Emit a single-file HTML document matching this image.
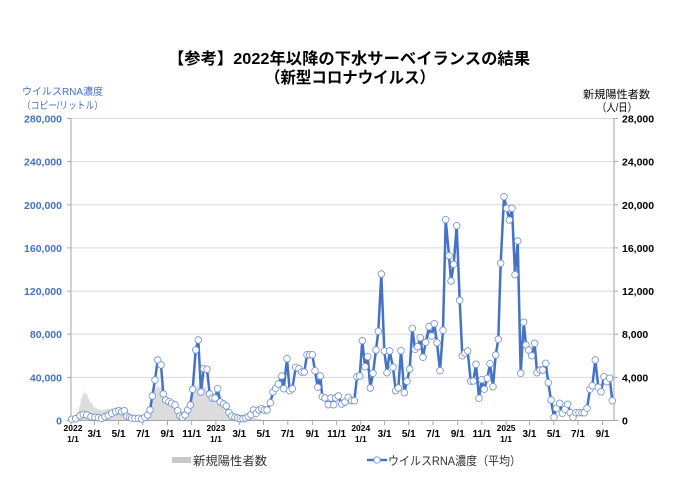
<!DOCTYPE html>
<html><head><meta charset="utf-8">
<style>
html,body{margin:0;padding:0;background:#fff;}
svg{display:block;}
</style></head>
<body>
<svg width="700" height="495" viewBox="0 0 700 495" xmlns="http://www.w3.org/2000/svg" font-family="'Liberation Sans','Noto Sans CJK JP',sans-serif">
<defs>
<marker id="m" markerWidth="9" markerHeight="9" refX="4.5" refY="4.5" markerUnits="userSpaceOnUse">
<circle cx="4.5" cy="4.5" r="3.3" fill="#ffffff" stroke="#6f8fd0" stroke-width="0.8"/>
</marker>
</defs>
<rect width="700" height="495" fill="#fff"/>

<!-- Title -->
<text x="349" y="64" text-anchor="middle" font-size="16" font-weight="bold" fill="#000" textLength="362" lengthAdjust="spacingAndGlyphs">【参考】2022年以降の下水サーベイランスの結果</text>
<text x="350" y="83" text-anchor="middle" font-size="16" font-weight="bold" fill="#000" textLength="170" lengthAdjust="spacingAndGlyphs">（新型コロナウイルス）</text>

<!-- axis titles -->
<text x="22" y="95" font-size="10" fill="#4472c4" textLength="81" lengthAdjust="spacingAndGlyphs">ウイルスRNA濃度</text>
<text x="22" y="109" font-size="10" fill="#4472c4" textLength="81" lengthAdjust="spacingAndGlyphs">（コピー/リットル）</text>
<text x="583" y="98" font-size="11" fill="#000" textLength="67" lengthAdjust="spacingAndGlyphs">新規陽性者数</text>
<text x="597" y="111" font-size="11" fill="#000" textLength="40" lengthAdjust="spacingAndGlyphs">（人/日）</text>

<!-- gridlines -->
<g stroke="#d9d9d9" stroke-width="1">
<line x1="71" y1="118.5" x2="614" y2="118.5"/>
<line x1="71" y1="161.6" x2="614" y2="161.6"/>
<line x1="71" y1="204.8" x2="614" y2="204.8"/>
<line x1="71" y1="247.9" x2="614" y2="247.9"/>
<line x1="71" y1="291.1" x2="614" y2="291.1"/>
<line x1="71" y1="334.2" x2="614" y2="334.2"/>
<line x1="71" y1="377.4" x2="614" y2="377.4"/>
</g>

<!-- bars (new positive cases) -->
<polygon fill="#dcdcdc" points="71,420 74,419 76,416 77,412 78,414 79,405 80,408 81,397 82,400 83,392 84,396 85,390 86,395 87,393 88,399 89,398 90,403 91,402 93,405 94,408 96,407 98,410 100,409 102,411 104,409 106,410 108,408 110,410 112,407 114,409 116,406 118,409 120,407 122,410 124,409 126,412 128,412 130,415 132,415 136,416 140,416 144,415 146,414 148,410 149,405 150,408 151,398 152,401 153,390 154,394 155,387 156,390 157,383 158,388 159,385 160,389 161,386 162,391 163,390 164,394 166,395 168,399 170,399 172,402 174,403 176,406 178,408 180,411 182,411 184,412 186,410 187,406 188,404 189,400 190,402 191,393 192,397 193,388 194,392 195,386 196,391 197,383 198,388 199,384 200,387 201,380 202,386 203,383 204,388 205,384 206,390 207,388 208,393 209,391 210,395 211,392 212,398 213,396 214,400 216,400 218,404 220,404 222,407 225,408 228,411 230,411 233,413 235,413 240,415 245,416 250,417 255,418 260,419 263,420"/>

<!-- axes -->
<g stroke="#a6a6a6" stroke-width="1" fill="none">
<line x1="71" y1="118" x2="71" y2="420.5"/>
<line x1="614" y1="118" x2="614" y2="420.5"/>
<line x1="71" y1="420.5" x2="614" y2="420.5"/>
<line x1="67" y1="118.5" x2="71" y2="118.5"/>
<line x1="67" y1="161.6" x2="71" y2="161.6"/>
<line x1="67" y1="204.8" x2="71" y2="204.8"/>
<line x1="67" y1="247.9" x2="71" y2="247.9"/>
<line x1="67" y1="291.1" x2="71" y2="291.1"/>
<line x1="67" y1="334.2" x2="71" y2="334.2"/>
<line x1="67" y1="377.4" x2="71" y2="377.4"/>
<line x1="67" y1="420.5" x2="71" y2="420.5"/>
<line x1="614" y1="118.5" x2="618" y2="118.5"/>
<line x1="614" y1="161.6" x2="618" y2="161.6"/>
<line x1="614" y1="204.8" x2="618" y2="204.8"/>
<line x1="614" y1="247.9" x2="618" y2="247.9"/>
<line x1="614" y1="291.1" x2="618" y2="291.1"/>
<line x1="614" y1="334.2" x2="618" y2="334.2"/>
<line x1="614" y1="377.4" x2="618" y2="377.4"/>
<line x1="614" y1="420.5" x2="618" y2="420.5"/>
<!-- x ticks -->
<line x1="71" y1="420.5" x2="71" y2="425"/>
<line x1="94.4" y1="420.5" x2="94.4" y2="425"/>
<line x1="118.6" y1="420.5" x2="118.6" y2="425"/>
<line x1="142.9" y1="420.5" x2="142.9" y2="425"/>
<line x1="167.5" y1="420.5" x2="167.5" y2="425"/>
<line x1="191.7" y1="420.5" x2="191.7" y2="425"/>
<line x1="215.9" y1="420.5" x2="215.9" y2="425"/>
<line x1="239.3" y1="420.5" x2="239.3" y2="425"/>
<line x1="263.5" y1="420.5" x2="263.5" y2="425"/>
<line x1="287.8" y1="420.5" x2="287.8" y2="425"/>
<line x1="312.4" y1="420.5" x2="312.4" y2="425"/>
<line x1="336.6" y1="420.5" x2="336.6" y2="425"/>
<line x1="360.8" y1="420.5" x2="360.8" y2="425"/>
<line x1="384.6" y1="420.5" x2="384.6" y2="425"/>
<line x1="408.8" y1="420.5" x2="408.8" y2="425"/>
<line x1="433.1" y1="420.5" x2="433.1" y2="425"/>
<line x1="457.7" y1="420.5" x2="457.7" y2="425"/>
<line x1="481.9" y1="420.5" x2="481.9" y2="425"/>
<line x1="506.1" y1="420.5" x2="506.1" y2="425"/>
<line x1="529.5" y1="420.5" x2="529.5" y2="425"/>
<line x1="553.8" y1="420.5" x2="553.8" y2="425"/>
<line x1="578" y1="420.5" x2="578" y2="425"/>
<line x1="602.6" y1="420.5" x2="602.6" y2="425"/>
</g>

<!-- left tick labels -->
<g font-size="10.5" font-weight="bold" fill="#4472c4" text-anchor="end">
<text x="62" y="122.5">280,000</text>
<text x="62" y="165.6">240,000</text>
<text x="62" y="208.8">200,000</text>
<text x="62" y="251.9">160,000</text>
<text x="62" y="295.1">120,000</text>
<text x="62" y="338.2">80,000</text>
<text x="62" y="381.4">40,000</text>
<text x="62" y="424.5">0</text>
</g>
<!-- right tick labels -->
<g font-size="10.5" font-weight="bold" fill="#000" text-anchor="start">
<text x="622" y="122.5">28,000</text>
<text x="622" y="165.6">24,000</text>
<text x="622" y="208.8">20,000</text>
<text x="622" y="251.9">16,000</text>
<text x="622" y="295.1">12,000</text>
<text x="622" y="338.2">8,000</text>
<text x="622" y="381.4">4,000</text>
<text x="622" y="424.5">0</text>
</g>

<!-- x labels -->
<g font-size="10" font-weight="bold" fill="#000" text-anchor="middle">
<text x="73" y="431" font-size="8.5">2022</text>
<text x="73" y="442" font-size="8.5">1/1</text>
<text x="94.4" y="437">3/1</text>
<text x="118.6" y="437">5/1</text>
<text x="142.9" y="437">7/1</text>
<text x="167.5" y="437">9/1</text>
<text x="191.7" y="437">11/1</text>
<text x="215.9" y="431" font-size="8.5">2023</text>
<text x="215.9" y="442" font-size="8.5">1/1</text>
<text x="239.3" y="437">3/1</text>
<text x="263.5" y="437">5/1</text>
<text x="287.8" y="437">7/1</text>
<text x="312.4" y="437">9/1</text>
<text x="336.6" y="437">11/1</text>
<text x="360.8" y="431" font-size="8.5">2024</text>
<text x="360.8" y="442" font-size="8.5">1/1</text>
<text x="384.6" y="437">3/1</text>
<text x="408.8" y="437">5/1</text>
<text x="433.1" y="437">7/1</text>
<text x="457.7" y="437">9/1</text>
<text x="481.9" y="437">11/1</text>
<text x="506.1" y="431" font-size="8.5">2025</text>
<text x="506.1" y="442" font-size="8.5">1/1</text>
<text x="529.5" y="437">3/1</text>
<text x="553.8" y="437">5/1</text>
<text x="578" y="437">7/1</text>
<text x="602.6" y="437">9/1</text>
</g>

<!-- RNA series -->
<polyline fill="none" stroke="#4472c4" stroke-width="2.5" stroke-linejoin="round" marker-start="url(#m)" marker-mid="url(#m)" marker-end="url(#m)" points="
71.7,419.3 75.7,418.7 80,415.7 83.3,414.3 86.7,415 91,416.7 95,417.3 98.3,417.7 101.7,418.3 105,416.7 108.3,415.3 111.7,413.3 115.7,411.7 119,410.7 121.7,411.7 124.3,410.7 127,416.3 129.5,417.3 131.7,418.3 135,418.3 138.3,418.3 141.7,419 145,417.3 147.7,415 150,410 152.3,396 155,380 157.7,360 161,365 163.3,394 165.7,400 169,401.7 171.7,403.3 175,405 177.7,410.7 180,416 182.3,417.3 185,415 187.7,410 190.3,405 192.7,389.3 195.7,350 198.3,340 201,392 203.7,368.7 207,369.3 209.7,394 212.3,398 215,398 217.7,388.7 220.3,402 223.7,404 226.3,406 229,412.7 231.7,416 235,417.3 237.7,418 240.3,418.7 243,418.7 245.7,418 248.3,416.7 251,414.7 253.7,410 256.3,413.3 259,410 261.7,408.7 264.3,410 267,410 270.3,402.7 273,392 275.7,388.3 278.3,384 281.7,376 283.7,388.7 287,358.7 289.7,390.7 292.3,388.7 295.7,367.3 299,368.7 301.7,372 304.3,372 307,354.7 309.7,354.7 312.3,354.7 315,370.7 317.7,387.3 320.3,376 322.3,396.7 325,398 328.3,404.7 331,398 333.7,404.7 335.7,398 338.3,396 341.7,404 345,402 348.3,397.3 351.7,400.7 354.3,400.7 357,376.7 359.7,376 362.3,340.7 365,366.7 367.7,356.7 370.3,388 373,373.3 376,350 378.3,331.3 381.3,274 384.3,351 387,372.7 389.7,351 393,367.3 395.7,390.7 398.3,388 401,350.7 404.3,392.7 407,381.3 409.7,369 412.3,328.3 415,349.3 417.7,346.7 420.3,337.7 423,357.3 425.7,342.3 429,326.7 431.7,336 434.3,323.7 437,342.7 440,370.7 443,330.3 445.7,219.7 449,255.7 451,281 453.7,264.3 456.7,225.7 459.7,300.3 462.3,355.7 465,353 467.7,351 470.7,381.3 473.3,381 476,364.3 479,398.3 481.7,379.7 484.3,389.3 487.3,378.3 490,363.7 493,386.7 495.7,355 498.3,339.3 500.7,263.3 504,196.7 506.7,208.3 509.3,220 512,208.3 515,274.7 517.7,241 520.7,373.3 523.7,322.3 526,345 528.7,350 531.7,355.7 534.7,343.3 537,372.7 540,370 542.7,370 545.7,363.3 548.3,382.7 551,400 554,417.3 556.3,408.3 559.7,403.3 562.3,413.3 565,409.3 567.7,404.3 570.3,412.7 573,417.3 576,412.7 579,412.7 582,412.7 584.3,412.7 587,408.3 590,389.3 592.3,385.7 595.3,360 598.3,387.3 601,391.7 604,376.7 606.7,381.7 609.7,378.3 612.3,400.7"/>

<!-- legend -->
<rect x="172" y="457" width="19" height="6" fill="#c8c8c8"/>
<text x="193" y="465" font-size="12" fill="#333" textLength="74" lengthAdjust="spacingAndGlyphs">新規陽性者数</text>
<line x1="367" y1="460" x2="387" y2="460" stroke="#4472c4" stroke-width="2.5"/>
<circle cx="377" cy="460" r="3.2" fill="#fff" stroke="#6f8fd0" stroke-width="0.8"/>
<text x="388" y="465" font-size="12" fill="#333" textLength="133" lengthAdjust="spacingAndGlyphs">ウイルスRNA濃度（平均）</text>
</svg>
</body></html>
